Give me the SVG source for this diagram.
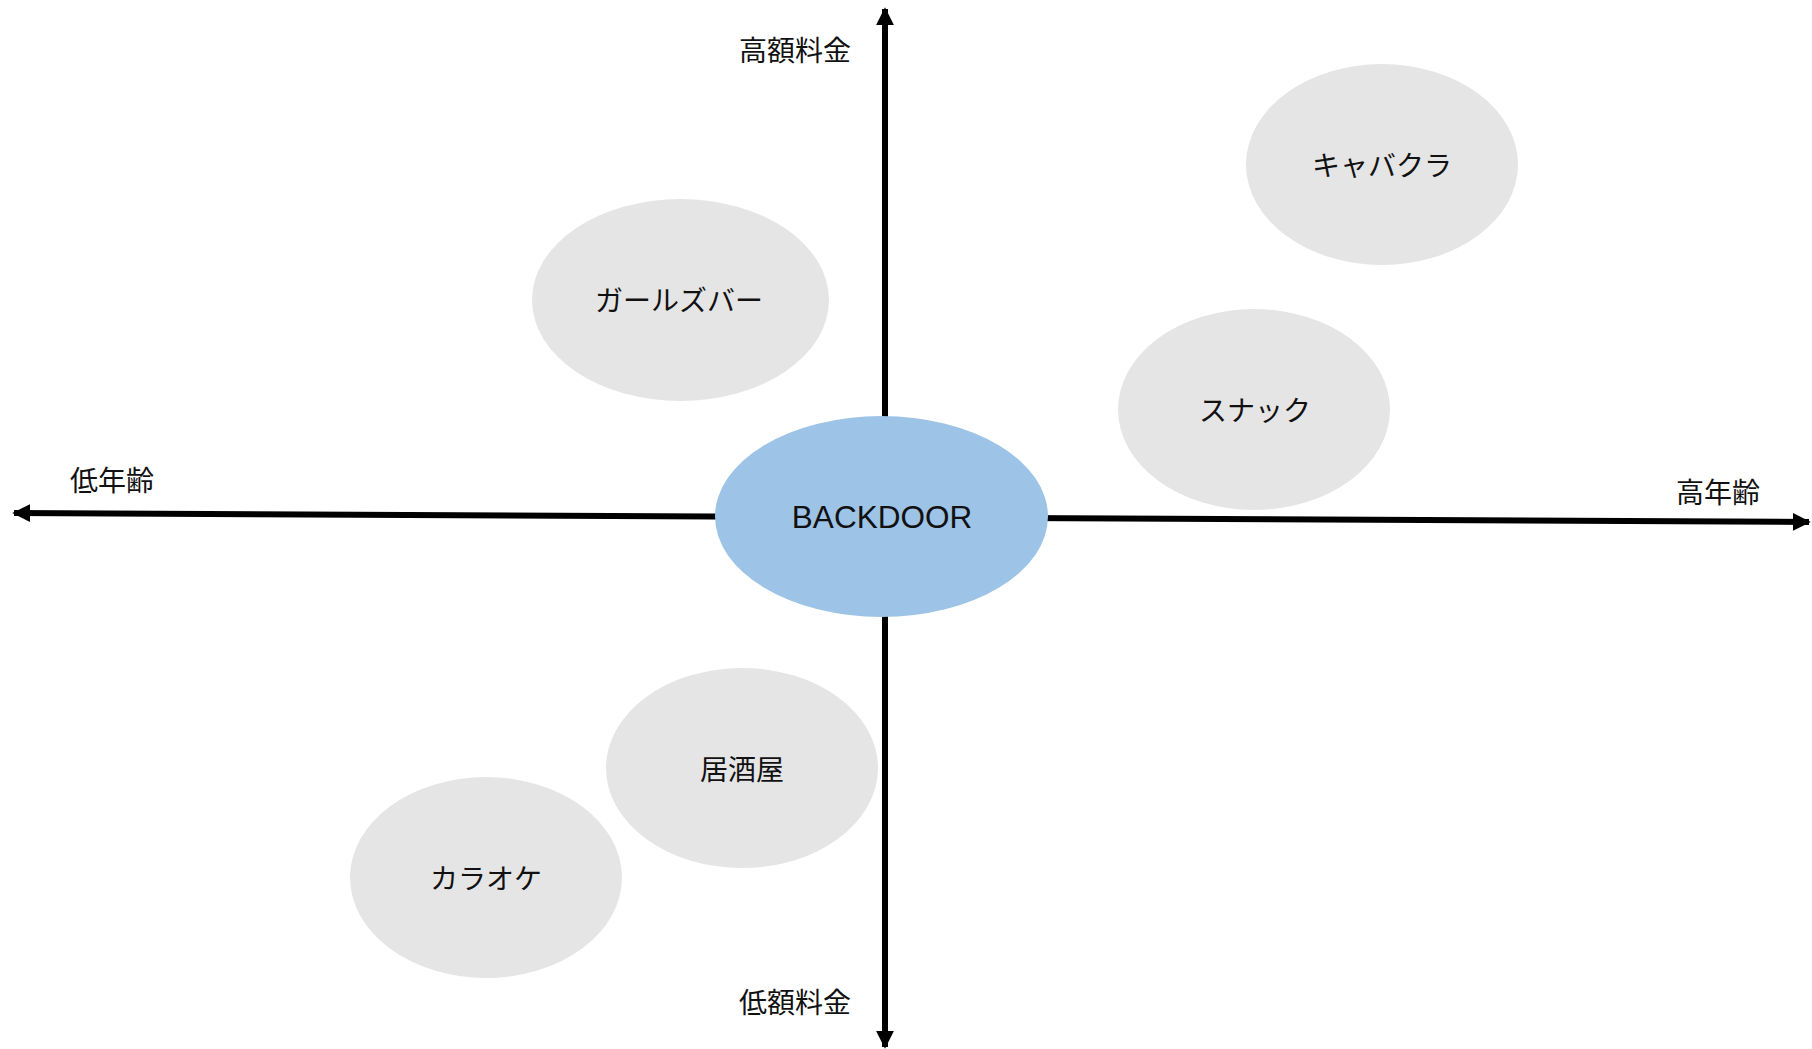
<svg xmlns="http://www.w3.org/2000/svg" width="1812" height="1049" viewBox="0 0 1812 1049">
  <style>
    .jp { font-family: "Noto Sans CJK JP", "Noto Sans", sans-serif; font-size: 28px; fill: #111; text-anchor: middle; dominant-baseline: central; }
    .en { font-family: "Liberation Sans", "Noto Sans", sans-serif; font-size: 31.5px; fill: #111; text-anchor: middle; dominant-baseline: central; }
    .axis { stroke: #000; stroke-width: 6; fill: none; }
    .gray { fill: #e5e5e5; }
    .blue { fill: #9dc3e6; }
  </style>
  <defs>
    <marker id="arr" viewBox="0 0 10 10" refX="9" refY="5" markerUnits="userSpaceOnUse" markerWidth="18" markerHeight="18" orient="auto">
      <path d="M0,0 L10,5 L0,10 z" fill="#000"/>
    </marker>
  </defs>
  <rect width="1812" height="1049" fill="#fff"/>
  <g id="connectors">
    <line class="axis" x1="885" y1="1040" x2="885" y2="9" marker-end="url(#arr)"/>
    <line class="axis" x1="885" y1="40" x2="885" y2="1047" marker-end="url(#arr)"/>
    <line class="axis" x1="900" y1="517.5" x2="14" y2="513" marker-end="url(#arr)"/>
    <line class="axis" x1="880" y1="517.4" x2="1809" y2="522" marker-end="url(#arr)"/>
  </g>
  <g id="label-high-price"><text class="jp" x="795" y="49">高額料金</text></g>
  <g id="label-low-price"><text class="jp" x="795" y="1001">低額料金</text></g>
  <g id="label-low-age"><text class="jp" x="112" y="479">低年齢</text></g>
  <g id="label-high-age"><text class="jp" x="1718" y="491">高年齢</text></g>
  <g id="node-backdoor">
    <ellipse class="blue" cx="881.5" cy="516.5" rx="166.5" ry="100.5"/>
    <text class="en" x="882" y="517">BACKDOOR</text>
  </g>
  <g id="node-kyabakura">
    <ellipse class="gray" cx="1382" cy="164.5" rx="136" ry="100.5"/>
    <text class="jp" x="1382" y="164">キャバクラ</text>
  </g>
  <g id="node-girlsbar">
    <ellipse class="gray" cx="680.5" cy="300" rx="148.5" ry="101"/>
    <text class="jp" x="679" y="299">ガールズバー</text>
  </g>
  <g id="node-snack">
    <ellipse class="gray" cx="1254" cy="409.5" rx="136" ry="100.5"/>
    <text class="jp" x="1255" y="409">スナック</text>
  </g>
  <g id="node-izakaya">
    <ellipse class="gray" cx="742" cy="768" rx="136" ry="100"/>
    <text class="jp" x="742" y="768">居酒屋</text>
  </g>
  <g id="node-karaoke">
    <ellipse class="gray" cx="486" cy="877.5" rx="136" ry="100.5"/>
    <text class="jp" x="486" y="877">カラオケ</text>
  </g>
</svg>
